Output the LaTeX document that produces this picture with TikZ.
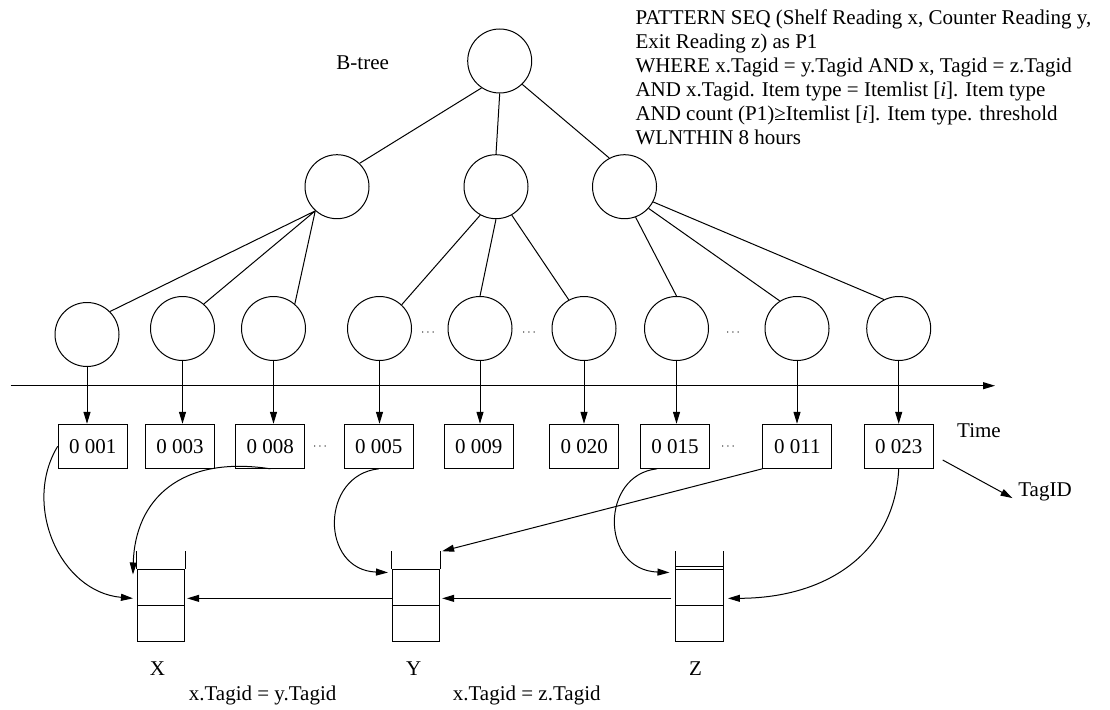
\documentclass[tikz,border=0pt]{standalone}
\usepackage{fontspec}
\setmainfont{Liberation Serif}
\usetikzlibrary{arrows.meta, positioning, calc}

\begin{document}
\begin{tikzpicture}[x=1pt, y=-1pt, line width=1pt,
  every node/.style={font=\fontsize{21}{24}\selectfont},
  treenode/.style={draw, circle, minimum size=64pt, inner sep=0pt},
  tagbox/.style={draw, rectangle, minimum width=69pt, minimum height=44pt, inner sep=0pt},
  stack/.style={draw, rectangle, minimum width=47.5pt, minimum height=72.7pt, inner sep=0pt},
  dots/.style={font=\fontsize{12}{14}\selectfont, inner sep=0pt},
  arr/.style={-{Triangle[length=12pt, width=7pt]}}]
  \useasboundingbox (0,0) rectangle (1110,709);

  % B-tree
  \node[anchor=base] (btree) at (362.7,70) {B-tree};
  \node[treenode] (root) at (499.7,61) {};
  \node[treenode] (ml) at (337,186.7) {};
  \node[treenode] (mm) at (496,186.7) {};
  \node[treenode] (mr) at (624.5,186.7) {};
  \foreach \n/\x/\y in {1/87/334.5, 2/182.5/328.5, 3/273.5/328.5, 4/379.5/328.5, 5/480/328.5,
                        6/584/328.5, 7/676.5/328.5, 8/797/328.5, 9/898.7/328.5}
    \node[treenode] (l\n) at (\x,\y) {};
  \node[dots] (d1) at (428,332.7) {$\cdots$};
  \node[dots] (d2) at (529,332.7) {$\cdots$};
  \node[dots] (d3) at (733,332.7) {$\cdots$};

  \draw (root.236) -- (ml.46);
  \draw (root.south) -- (mm.north);
  \draw (root.314) -- (mr.118);
  \draw (ml.228) -- (l1.45) (ml.228) -- (l2.49) (ml.228) -- (l3.49);
  \draw (mm.241) -- (l4.47) (mm.south) -- (l5.north) (mm.299) -- (l6.118);
  \draw (mr.290) -- (l7.north) (mr.318) -- (l8.122) (mr.332) -- (l9.117);

  % Query
  \node[anchor=north west, align=left, inner sep=0pt] (query) at (635,9) {
    PATTERN SEQ (Shelf Reading x, Counter Reading y,\\
    Exit Reading z) as P1\\
    WHERE x.Tagid = y.Tagid AND x, Tagid = z.Tagid\\
    AND x.Tagid. Item type = Itemlist [\textit{i}]. Item type\\
    AND count (P1)≥Itemlist [\textit{i}]. Item type. threshold\\
    WLNTHIN 8 hours};

  % Time axis and tag IDs
  \coordinate (t0) at (10.7,385.7);
  \coordinate (t1) at (995,385.7);
  \draw[arr] (t0) -- (t1);
  \node[anchor=base] (time) at (979,437.3) {Time};

  \foreach \n/\x/\t in {1/92.7/0 001, 2/180/0 003, 3/270.3/0 008, 4/378.8/0 005, 5/478.7/0 009,
                        6/584.3/0 020, 7/675/0 015, 8/797.3/0 011, 9/898.7/0 023}
    \node[tagbox] (b\n) at (\x,446.3) {\t};
  \node[dots] (d4) at (320,446.7) {$\cdots$};
  \node[dots] (d5) at (728,446.7) {$\cdots$};

  \foreach \n in {1,...,9}
    \draw[arr] (l\n.south) -- (l\n.south |- b\n.north);

  \node[anchor=base] (tagid) at (1045,496.7) {TagID};
  \coordinate (tg) at (942.7,460);
  \draw[arr] (tg) -- ([xshift=-2pt,yshift=-6pt]tagid.west);

  % Stacks
  \node[stack] (X) at (161.2,605.35) {};
  \node[stack] (Y) at (416.2,605.35) {};
  \node[stack] (Z) at (699.7,605.35) {};
  \foreach \s in {X,Y,Z}
    \draw (\s.north west) -- ++(0,-17.3) (\s.north east) -- ++(0,-17.3) (\s.west) -- (\s.east);
  \draw ([yshift=2.5pt]Z.north west) -- ([yshift=2.5pt]Z.north east);

  \node[anchor=base] (lx) at (157.4,675) {X};
  \node[anchor=base] (ly) at (413.8,675) {Y};
  \node[anchor=base] (lz) at (695.6,675) {Z};
  \node[anchor=base] (eqxy) at (262.6,700) {x.Tagid = y.Tagid};
  \node[anchor=base] (eqxz) at (526.7,700) {x.Tagid = z.Tagid};

  % Links
  \draw[arr] ([yshift=7pt]Y.west) -- ([xshift=1.7pt,yshift=7pt]X.east);
  \draw[arr] ([xshift=-4pt,yshift=7pt]Z.west) -- ([xshift=1.7pt,yshift=7pt]Y.east);
  \draw[arr] (b1.west) .. controls (22,505) and (60,592) .. ([xshift=-4pt,yshift=7pt]X.west);
  \draw[arr] (b3.south) .. controls (180,455) and (135,500) .. ([xshift=-4pt,yshift=-6pt]X.north west);
  \draw[arr] (b4.south) .. controls (320,475) and (320,570) .. ([xshift=-4pt,yshift=-4pt]Y.north west);
  \draw[arr] (b8.south west) -- ([xshift=1.7pt,yshift=17.3pt]Y.north east);
  \draw[arr] ([xshift=-18pt]b7.south) .. controls (600,475) and (600,570) .. ([xshift=-6pt,yshift=-4pt]Z.north west);
  \draw[arr] (b9.south) .. controls (895,550) and (830,598) .. ([xshift=4pt,yshift=7pt]Z.east);
\end{tikzpicture}
\end{document}
